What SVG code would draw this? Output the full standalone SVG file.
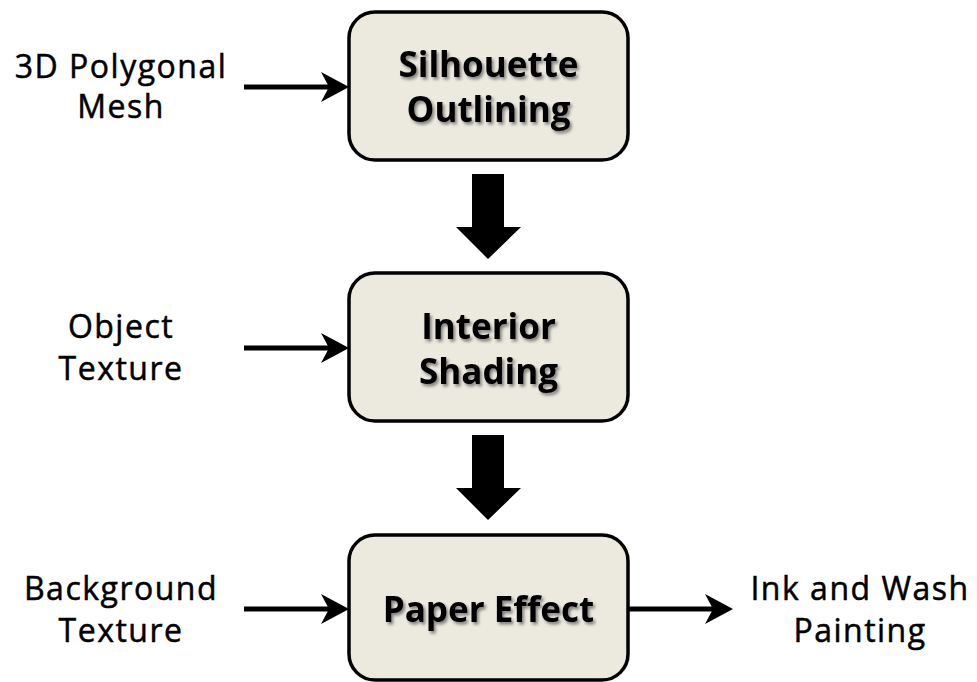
<svg xmlns="http://www.w3.org/2000/svg" width="977" height="682" viewBox="0 0 977 682">
<style>
.box{fill:#ECE9DF;stroke:#000;stroke-width:3.5}
.lbl{font-family:"Open Sans","Noto Sans","Liberation Sans",sans-serif;font-size:32px;letter-spacing:1.5px;fill:#000;stroke:#000;stroke-width:0.5;text-anchor:middle}
.title{font-family:"Open Sans","Noto Sans","Liberation Sans",sans-serif;font-size:35px;font-weight:bold;fill:#000;text-anchor:middle}
.ln{stroke:#000;stroke-width:5;fill:none}
.head{fill:#000}
.big{fill:#000}
</style>
<defs>
<filter id="sh" x="-10%" y="-20%" width="130%" height="150%">
<feDropShadow dx="2" dy="2.5" stdDeviation="1.5" flood-color="#000" flood-opacity="0.45"/>
</filter>
</defs>
<g id="node-silhouette">
<rect class="box" x="349" y="12" width="279" height="148" rx="26"/>
<text class="title" filter="url(#sh)" x="488.5" y="77">Silhouette</text>
<text class="title" filter="url(#sh)" x="488.5" y="122">Outlining</text>
</g>
<g id="node-interior">
<rect class="box" x="349" y="273" width="279" height="148" rx="26"/>
<text class="title" filter="url(#sh)" x="488.5" y="339">Interior</text>
<text class="title" filter="url(#sh)" x="488.5" y="384">Shading</text>
</g>
<g id="node-paper">
<rect class="box" x="349" y="535" width="279" height="145" rx="26"/>
<text class="title" filter="url(#sh)" x="488.5" y="622">Paper Effect</text>
</g>
<g id="input-mesh">
<text class="lbl" x="121" y="78">3D Polygonal</text>
<text class="lbl" x="121" y="118">Mesh</text>
</g>
<g id="input-object-texture">
<text class="lbl" x="121" y="338">Object</text>
<text class="lbl" x="121" y="380">Texture</text>
</g>
<g id="input-background-texture">
<text class="lbl" x="121" y="600">Background</text>
<text class="lbl" x="121" y="642">Texture</text>
</g>
<g id="output-painting">
<text class="lbl" x="860" y="600">Ink and Wash</text>
<text class="lbl" x="860" y="642">Painting</text>
</g>
<g id="connectors">
<line class="ln" x1="244" y1="87" x2="340" y2="87"/>
<path class="head" d="M349,87 L321,72 L329,87 L321,102 Z"/>
<line class="ln" x1="244" y1="348" x2="340" y2="348"/>
<path class="head" d="M349,348 L321,333 L329,348 L321,363 Z"/>
<line class="ln" x1="244" y1="609" x2="340" y2="609"/>
<path class="head" d="M349,609 L321,594 L329,609 L321,624 Z"/>
<line class="ln" x1="628" y1="609" x2="724" y2="609"/>
<path class="head" d="M733,609 L705,594 L713,609 L705,624 Z"/>
<path class="big" d="M472,174 L504,174 L504,227 L521,227 L488,259 L456,227 L472,227 Z"/>
<path class="big" d="M472,435 L504,435 L504,488 L521,488 L488,520 L456,488 L472,488 Z"/>
</g>
</svg>
